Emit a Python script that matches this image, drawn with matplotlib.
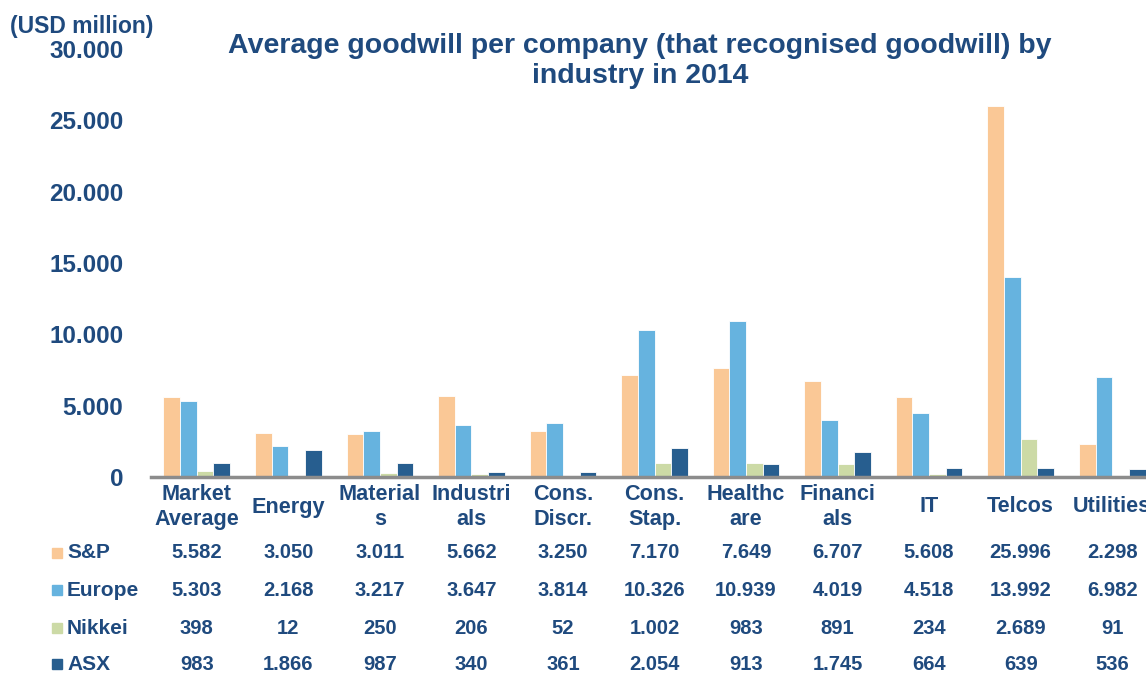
#!/usr/bin/env python3
"""Average goodwill per company by industry, 2014, with data table underneath."""

import matplotlib as mpl
import matplotlib.pyplot as plt
import numpy as np

# categories and series (USD million)
industries = ["Market\nAverage", "Energy", "Material\ns", "Industri\nals", "Cons.\nDiscr.",
              "Cons.\nStap.", "Healthc\nare", "Financi\nals", "IT", "Telcos", "Utilities"]
series_names = ["S&P", "Europe", "Nikkei", "ASX"]
sp = [5582, 3050, 3011, 5662, 3250, 7170, 7649, 6707, 5608, 25996, 2298]
europe = [5303, 2168, 3217, 3647, 3814, 10326, 10939, 4019, 4518, 13992, 6982]
nikkei = [398, 12, 250, 206, 52, 1002, 983, 891, 234, 2689, 91]
asx = [983, 1866, 987, 340, 361, 2054, 913, 1745, 664, 639, 536]
y_ticks = [0, 5000, 10000, 15000, 20000, 25000, 30000]

COLORS = ["#FAC896", "#66B3DF", "#CCDAA6", "#275E8F"]
TEXT = "#1F4A7E"

W, H = 1146, 675


def fmt(v):
    # European thousands separator
    return f"{v:,}".replace(",", ".")


def px(x, y):
    # pixel position (from top-left) to figure fraction
    return x / W, 1 - y / H


def main():
    mpl.rcParams.update({
        "font.family": ["Liberation Sans", "DejaVu Sans"],
        "font.weight": "bold",
    })
    fig = plt.figure(figsize=(W / 100, H / 100), dpi=100)

    # axes run past the right edge so the last group is clipped
    left, right = 151, 1158
    top, bottom = 49, 477
    ax = fig.add_axes([left / W, 1 - bottom / H, (right - left) / W, (bottom - top) / H])

    data = [sp, europe, nikkei, asx]
    x = np.arange(len(industries))
    width = 0.182
    for i, (vals, color) in enumerate(zip(data, COLORS)):
        ax.bar(x + (i - 1.5) * width, vals, width, color=color,
               edgecolor="white", linewidth=0.6, zorder=2)

    ax.set_xlim(-0.5, len(industries) - 0.5)
    ax.set_ylim(0, 30000)
    ax.set_yticks(y_ticks, [fmt(t) for t in y_ticks])
    ax.tick_params(axis="y", length=0, pad=20, labelsize=17.5, labelcolor=TEXT)
    ax.set_xticks([])
    for side in ["top", "right", "left"]:
        ax.spines[side].set_visible(False)
    ax.spines["bottom"].set_color("#8C8C8C")
    ax.spines["bottom"].set_linewidth(2.5)
    ax.spines["bottom"].set_zorder(3)

    # category labels
    for xi, name in zip(x, industries):
        fx = ax.transData.transform((xi, 0))[0] / W
        fig.text(fx, px(0, 507)[1], name, ha="center", va="center", fontsize=15.6,
                 color=TEXT, linespacing=1.24)

    # data table with legend keys
    row_y = [553, 590, 628, 664]
    for name, vals, color, ry in zip(series_names, data, COLORS, row_y):
        fig.patches.append(mpl.patches.Rectangle(px(52, ry + 5), 10 / W, 10 / H,
                                                 transform=fig.transFigure, color=color))
        fig.text(*px(67, ry), name, ha="left", va="center", fontsize=15, color=TEXT)
        for xi, v in zip(x, vals):
            fx = ax.transData.transform((xi, 0))[0] / W
            fig.text(fx, px(0, ry)[1], fmt(v), ha="center", va="center",
                     fontsize=14.5, color=TEXT)

    fig.text(*px(640, 61), "Average goodwill per company (that recognised goodwill) by\nindustry in 2014",
             ha="center", va="center", fontsize=20.5, color=TEXT, linespacing=1.2)
    fig.text(*px(10, 26), "(USD million)", ha="left", va="center", fontsize=16.5, color=TEXT)

    fig.savefig("out.png", dpi=100, facecolor="white")


if __name__ == "__main__":
    main()
